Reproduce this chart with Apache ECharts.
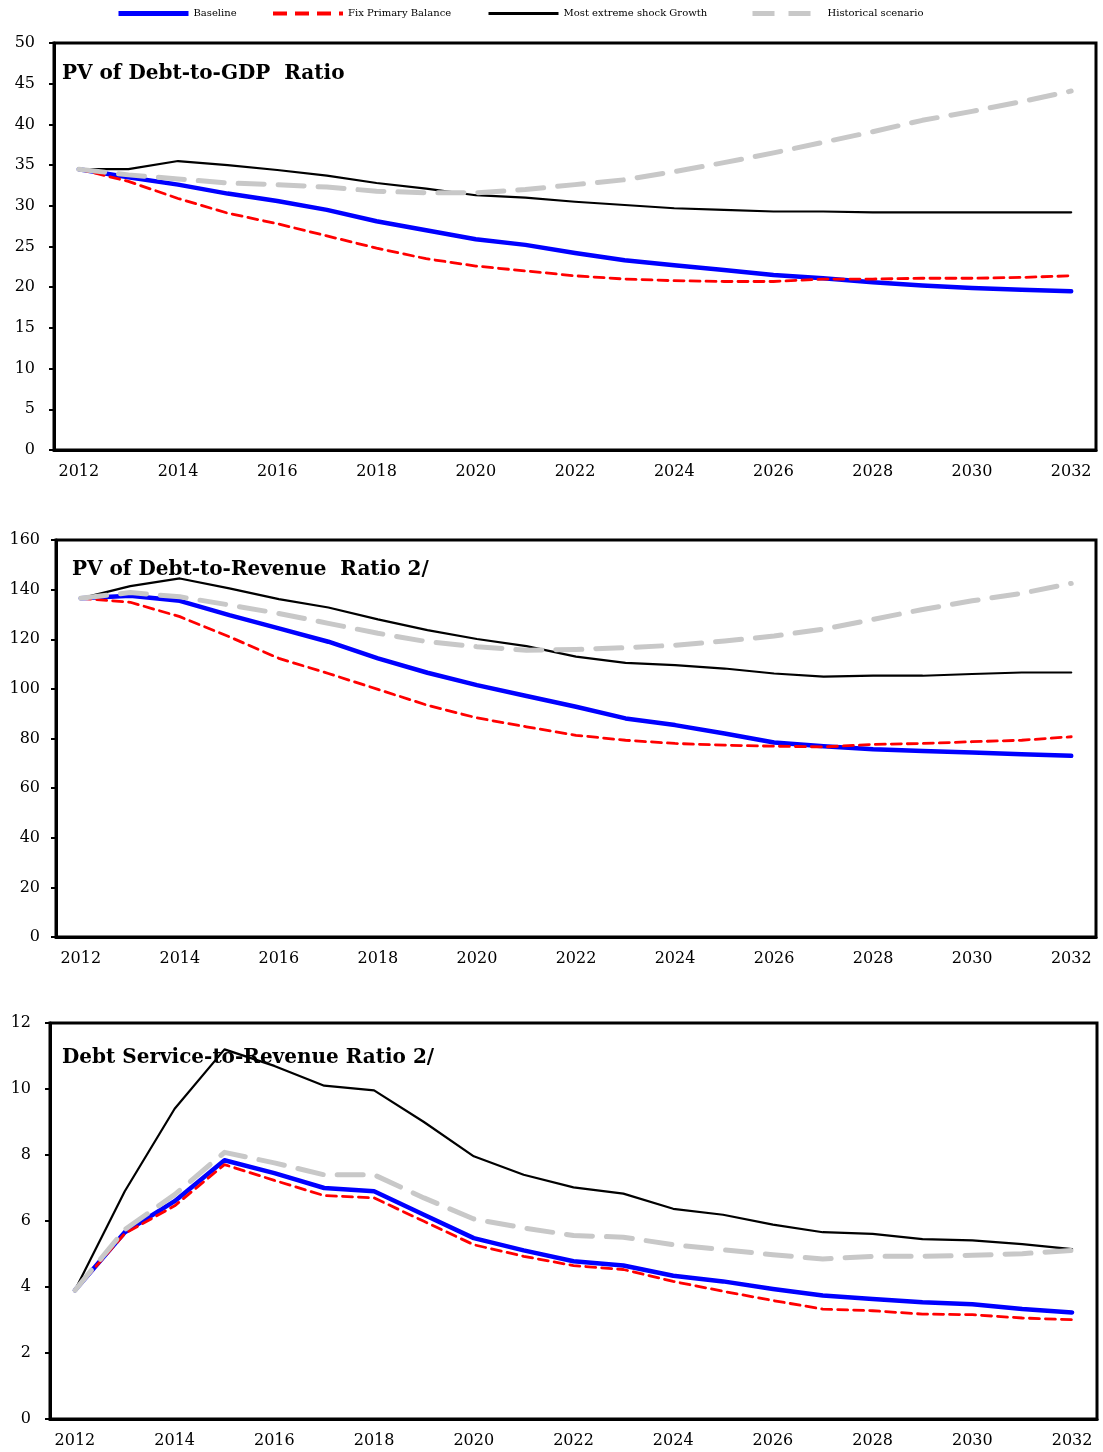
<!DOCTYPE html>
<html>
<head>
<meta charset="utf-8">
<script src="https://cdn.jsdelivr.net/npm/echarts@6/dist/echarts.min.js"></script>
<style>
html,body{margin:0;padding:0;background:#fff;}
#chart{width:1103px;height:1452px;}
</style>
</head>
<body>
<div id="chart"></div>
<script>
const years = ['2012','2013','2014','2015','2016','2017','2018','2019','2020','2021','2022','2023','2024','2025','2026','2027','2028','2029','2030','2031','2032'];
const seriesNames = ['Baseline','Fix Primary Balance','Most extreme shock Growth','Historical scenario'];
const panelTitles = ['PV of Debt-to-GDP  Ratio','PV of Debt-to-Revenue  Ratio 2/','Debt Service-to-Revenue Ratio 2/'];

// Panel 1: PV of Debt-to-GDP Ratio
const gdpBaseline = [34.5,33.5,32.6,31.5,30.6,29.5,28.1,27.0,25.9,25.2,24.2,23.3,22.7,22.1,21.5,21.1,20.6,20.2,19.9,19.7,19.5];
const gdpFixPB    = [34.5,33.0,30.9,29.1,27.8,26.3,24.8,23.5,22.6,22.0,21.4,21.0,20.8,20.7,20.7,21.0,21.0,21.1,21.1,21.2,21.4];
const gdpShock    = [34.5,34.5,35.5,35.0,34.4,33.7,32.8,32.1,31.3,31.0,30.5,30.1,29.7,29.5,29.3,29.3,29.2,29.2,29.2,29.2,29.2];
const gdpHist     = [34.5,33.8,33.3,32.8,32.6,32.3,31.8,31.6,31.6,32.0,32.6,33.2,34.2,35.3,36.5,37.8,39.1,40.5,41.6,42.8,44.1];

// Panel 2: PV of Debt-to-Revenue Ratio
const revBaseline = [136.5,137.5,135.5,129.7,124.4,119.0,112.3,106.5,101.5,97.1,92.8,88.1,85.4,82.0,78.4,76.9,75.7,75.0,74.4,73.7,73.0];
const revFixPB    = [136.5,134.9,129.1,121.0,112.3,106.2,99.8,93.4,88.3,84.7,81.3,79.3,78.0,77.3,76.9,76.6,77.6,78.0,78.7,79.3,80.7];
const revShock    = [136.5,141.4,144.5,140.5,136.2,132.8,128.0,123.7,120.1,117.2,113.0,110.5,109.6,108.2,106.2,104.9,105.3,105.3,106.0,106.6,106.6];
const revHist     = [136.5,138.8,137.1,133.8,130.4,126.4,122.4,119.0,117.0,115.6,115.9,116.6,117.6,119.3,121.3,124.1,128.0,132.0,135.5,138.5,142.5];

// Panel 3: Debt Service-to-Revenue Ratio
const dsBaseline = [3.9,5.66,6.6,7.84,7.45,7.0,6.9,6.19,5.48,5.11,4.78,4.65,4.34,4.17,3.94,3.74,3.64,3.54,3.48,3.33,3.23];
const dsFixPB    = [3.9,5.62,6.46,7.71,7.23,6.77,6.7,5.99,5.28,4.93,4.65,4.53,4.17,3.87,3.59,3.33,3.28,3.18,3.16,3.06,3.01];
const dsShock    = [3.9,6.9,9.4,11.2,10.7,10.1,9.96,9.0,7.96,7.4,7.02,6.83,6.37,6.19,5.89,5.66,5.61,5.45,5.41,5.30,5.15];
const dsHist     = [3.9,5.74,6.8,8.08,7.76,7.40,7.40,6.70,6.06,5.79,5.56,5.51,5.28,5.13,4.98,4.85,4.93,4.93,4.96,5.01,5.11];

const yMax = [50,160,12];
const yInterval = [5,20,2];

const panelData = [
  [gdpBaseline,gdpFixPB,gdpShock,gdpHist],
  [revBaseline,revFixPB,revShock,revHist],
  [dsBaseline,dsFixPB,dsShock,dsHist]
];

const grids = [
  {left:54, top:43, width:1042, height:407},
  {left:56, top:540, width:1040, height:397},
  {left:50, top:1023, width:1047, height:396}
];
const titlePos = [{left:62,top:64},{left:72,top:560},{left:62,top:1048}];
const yLabelMargin = [19,16,19];
const legendLeft = [116,271,487,750];

const styles = [
  {color:'#0000FF', width:4.5, type:'solid'},
  {color:'#FF0000', width:2.8, type:[10,6]},
  {color:'#000000', width:2.2, type:'solid'},
  {color:'#C8C8C8', width:5, type:[26,14]}
];
const legendLine = [
  {width:5, type:'solid'},
  {width:4, type:[14,8]},
  {width:3, type:'solid'},
  {width:5, type:[22,14]}
];

const serif = 'DejaVu Serif';

const option = {
  backgroundColor:'#fff',
  animation:false,
  legend: seriesNames.map((n,i)=>({
    top:8, left:legendLeft[i], padding:0, itemWidth:70, itemHeight:14, itemGap:0,
    itemStyle:{opacity:0},
    lineStyle:{width:legendLine[i].width, type:legendLine[i].type, color:styles[i].color, cap:'butt'},
    textStyle:{fontFamily:serif, fontSize:10, color:'#000'},
    data:[n]
  })),
  title: panelTitles.map((t,i)=>({
    text:t, left:titlePos[i].left, top:titlePos[i].top, padding:0, z:1,
    textStyle:{fontFamily:serif, fontWeight:'bold', fontSize:20, color:'#000'}
  })),
  grid: grids.map(g=>Object.assign({show:true, borderColor:'#000', borderWidth:3, backgroundColor:'transparent'}, g)),
  xAxis: grids.map((g,i)=>({
    type:'category', gridIndex:i, data:years, boundaryGap:true,
    axisLine:{lineStyle:{color:'#000', width:3}},
    axisTick:{inside:true, length:6, interval:0, lineStyle:{color:'#000', width:2.5}},
    axisLabel:{interval:1, margin:14, fontFamily:serif, fontSize:16, color:'#000'},
    splitLine:{show:false}
  })),
  yAxis: grids.map((g,i)=>({
    type:'value', gridIndex:i, min:0, max:yMax[i], interval:yInterval[i],
    axisLine:{show:true, lineStyle:{color:'#000', width:3}},
    axisTick:{show:true, length:5, lineStyle:{color:'#000', width:2}},
    axisLabel:{margin:yLabelMargin[i], fontFamily:serif, fontSize:16, color:'#000'},
    splitLine:{show:false}
  })),
  series: []
};

panelData.forEach((arrs,pi)=>{
  arrs.forEach((d,si)=>{
    option.series.push({
      name:seriesNames[si], type:'line', xAxisIndex:pi, yAxisIndex:pi,
      data:d, symbol:'none', smooth:false, z:2+si,
      lineStyle:{color:styles[si].color, width:styles[si].width, type:styles[si].type, cap:'round', join:'round'},
      itemStyle:{color:styles[si].color}
    });
  });
});

const chart = echarts.init(document.getElementById('chart'), null, {renderer:'canvas'});
chart.setOption(option);
</script>
</body>
</html>
